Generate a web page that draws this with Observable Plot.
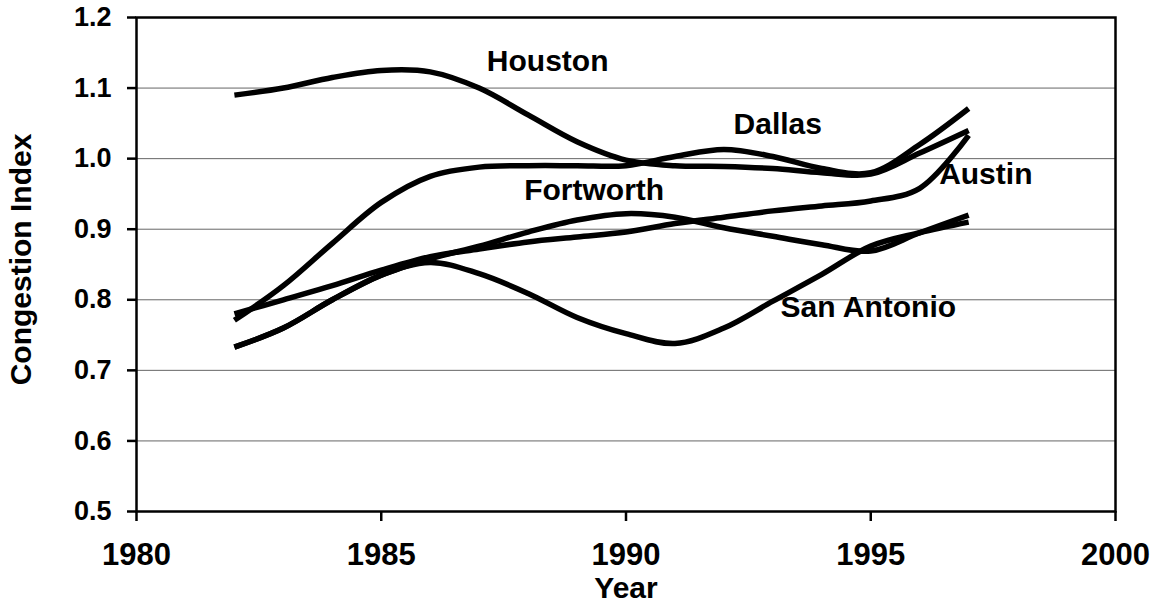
<!DOCTYPE html>
<html>
<head>
<meta charset="utf-8">
<script src="https://cdn.jsdelivr.net/npm/d3@7"></script>
<script src="https://cdn.jsdelivr.net/npm/@observablehq/plot@0.6"></script>
<style>
  html, body { margin: 0; padding: 0; background: #fff; }
  svg { display: block; }
</style>
</head>
<body>
<div id="chart"></div>
<script>
const years = [1982, 1983, 1984, 1985, 1986, 1987, 1988, 1989, 1990, 1991, 1992, 1993, 1994, 1995, 1996, 1997];
const houston    = [1.090, 1.100, 1.115, 1.125, 1.123, 1.100, 1.062, 1.024, 0.998, 0.990, 0.989, 0.986, 0.980, 0.978, 1.008, 1.040];
const dallas     = [0.771, 0.820, 0.880, 0.938, 0.975, 0.988, 0.990, 0.990, 0.990, 1.003, 1.013, 1.003, 0.986, 0.980, 1.020, 1.071];
const fortworth  = [0.733, 0.760, 0.800, 0.835, 0.858, 0.876, 0.896, 0.913, 0.922, 0.917, 0.902, 0.890, 0.878, 0.869, 0.895, 0.920];
const austin     = [0.780, 0.800, 0.820, 0.842, 0.861, 0.872, 0.882, 0.889, 0.896, 0.908, 0.917, 0.926, 0.933, 0.940, 0.958, 1.033];
const sanAntonio = [0.733, 0.760, 0.800, 0.835, 0.853, 0.837, 0.809, 0.775, 0.752, 0.738, 0.760, 0.798, 0.836, 0.876, 0.895, 0.910];

const cityNames = ["Houston", "Dallas", "Fortworth", "Austin", "San Antonio"];
const cityValues = [houston, dallas, fortworth, austin, sanAntonio];

// label anchors (year, index value)
const labelNames = ["Houston", "Dallas", "Fortworth", "Austin", "San Antonio"];
const labelYears = [1988.4, 1993.1, 1989.35, 1997.35, 1994.95];
const labelValues = [1.138, 1.048, 0.955, 0.977, 0.789];

const yTicks = [0.5, 0.6, 0.7, 0.8, 0.9, 1.0, 1.1, 1.2];
const xTicks = [1980, 1985, 1990, 1995, 2000];

const rows = [];
cityNames.forEach((name, i) => {
  years.forEach((yr, j) => rows.push({city: name, year: yr, value: cityValues[i][j]}));
});
const labels = labelNames.map((n, i) => ({name: n, year: labelYears[i], value: labelValues[i]}));

const chart = Plot.plot({
  width: 1154,
  height: 605,
  marginLeft: 136,
  marginRight: 39,
  marginTop: 17,
  marginBottom: 94,
  style: {fontFamily: "'Liberation Sans', Arial, sans-serif", fontWeight: "bold", fontSize: "30px", color: "#000", background: "#fff"},
  x: {domain: [1980, 2000]},
  y: {domain: [0.5, 1.2]},
  marks: [
    Plot.gridY(yTicks, {stroke: "#666", strokeOpacity: 1, strokeWidth: 1}),
    Plot.frame({stroke: "#000", strokeWidth: 2.5}),
    Plot.axisY({ticks: yTicks, tickFormat: d3.format(".1f"), tickSize: 9, tickPadding: 16, strokeWidth: 2.5, label: null, fontSize: 27}),
    Plot.axisX({ticks: xTicks, tickFormat: d3.format("d"), tickSize: 10, tickPadding: 21, strokeWidth: 2.5, label: null, fontSize: 31}),
    Plot.line(rows, {x: "year", y: "value", z: "city", stroke: "#000", strokeWidth: 5.5, curve: "catmull-rom", strokeLinecap: "butt"}),
    Plot.text(labels, {x: "year", y: "value", text: "name", fontSize: 30, fontWeight: "bold", fill: "#000"}),
    Plot.text(["Year"], {frameAnchor: "bottom", lineAnchor: "middle", dy: 77, fontSize: 30, fontWeight: "bold", fill: "#000"}),
    Plot.text(["Congestion Index"], {frameAnchor: "left", textAnchor: "middle", lineAnchor: "middle", dx: -115, dy: -5, rotate: -90, fontSize: 30, fontWeight: "bold", fill: "#000"})
  ]
});
document.getElementById("chart").appendChild(chart);
</script>
</body>
</html>
